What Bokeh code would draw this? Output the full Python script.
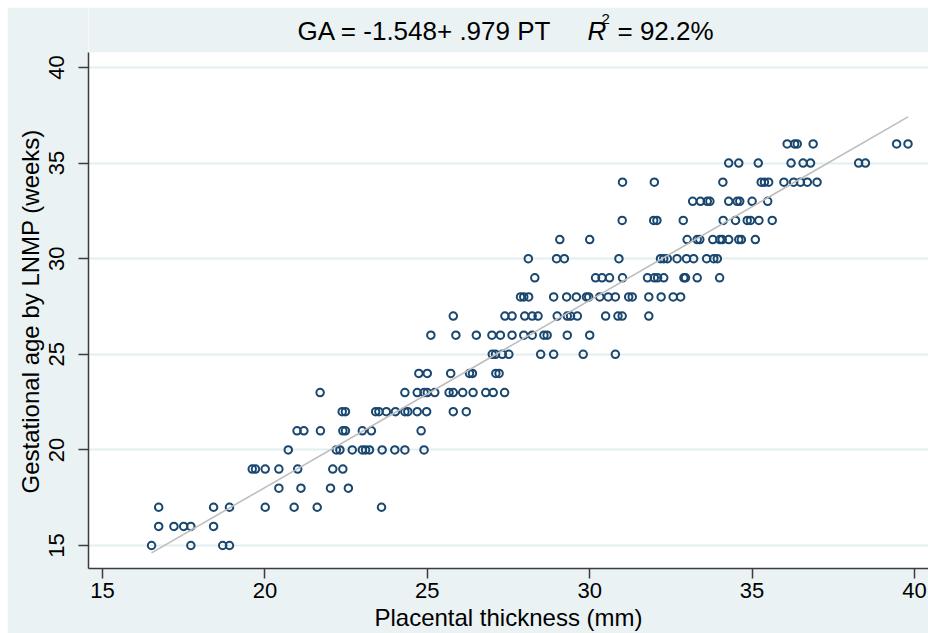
from bokeh.plotting import figure
from bokeh.models import Label, Range1d, FixedTicker, ColumnDataSource, BoxAnnotation
from bokeh.embed import file_html
from bokeh.resources import INLINE

# ---- data: placental thickness (mm) for each gestational age (weeks) ----
pt_ga15 = [16.51, 17.72, 18.70, 18.91]
pt_ga16 = [16.73, 17.20, 17.50, 17.72, 18.42]
pt_ga17 = [16.73, 18.42, 18.91, 20.01, 20.90, 21.61, 23.59]
pt_ga18 = [20.43, 21.11, 22.02, 22.57]
pt_ga19 = [19.61, 19.71, 20.01, 20.43, 21.01, 22.09, 22.40]
pt_ga20 = [20.72, 22.20, 22.31, 22.69, 23.00, 23.10, 23.22, 23.61, 24.00, 24.31, 24.90]
pt_ga21 = [20.99, 21.20, 21.71, 22.40, 22.48, 23.00, 23.28, 24.81]
pt_ga22 = [22.38, 22.48, 23.41, 23.51, 23.74, 24.02, 24.31, 24.40, 24.69, 24.98, 25.80, 26.20]
pt_ga23 = [21.70, 24.31, 24.69, 24.90, 25.00, 25.23, 25.67, 25.80, 26.09, 26.41, 26.80, 27.03, 27.38]
pt_ga24 = [24.74, 25.00, 25.72, 26.30, 26.39, 27.11, 27.21]
pt_ga25 = [27.00, 27.10, 27.31, 27.51, 28.49, 28.89, 29.80, 30.79]
pt_ga26 = [25.11, 25.88, 26.51, 26.99, 27.25, 27.61, 27.97, 28.23, 28.59, 28.69, 29.31, 30.00]
pt_ga27 = [25.80, 27.39, 27.61, 28.00, 28.23, 28.41, 29.00, 29.31, 29.41, 29.62, 30.49, 30.87, 31.00, 31.82]
pt_ga28 = [27.87, 27.97, 28.12, 28.89, 29.29, 29.59, 29.90, 29.97, 30.31, 30.57, 30.79, 31.20, 31.31, 31.82, 32.20, 32.57, 32.80]
pt_ga29 = [28.31, 30.18, 30.38, 30.61, 31.01, 31.78, 31.99, 32.09, 32.28, 32.90, 32.95, 33.31, 34.00]
pt_ga30 = [28.11, 28.98, 29.22, 30.90, 32.18, 32.28, 32.39, 32.69, 32.98, 33.20, 33.60, 33.82, 33.93]
pt_ga31 = [29.08, 30.00, 33.00, 33.31, 33.39, 33.79, 34.01, 34.08, 34.28, 34.59, 34.67, 35.10]
pt_ga32 = [31.00, 31.97, 32.07, 32.88, 34.11, 34.49, 34.85, 34.95, 35.21, 35.62]
pt_ga33 = [33.17, 33.41, 33.62, 33.70, 34.28, 34.54, 34.62, 35.00, 35.48]
pt_ga34 = [31.01, 31.99, 34.10, 35.28, 35.38, 35.51, 35.98, 36.28, 36.49, 36.70, 37.00]
pt_ga35 = [34.28, 34.59, 35.19, 36.20, 36.57, 36.80, 38.28, 38.49]
pt_ga36 = [36.08, 36.31, 36.39, 36.88, 39.45, 39.80]

ga_levels = list(range(15, 37))
pt_rows = [pt_ga15, pt_ga16, pt_ga17, pt_ga18, pt_ga19, pt_ga20, pt_ga21, pt_ga22,
           pt_ga23, pt_ga24, pt_ga25, pt_ga26, pt_ga27, pt_ga28, pt_ga29, pt_ga30,
           pt_ga31, pt_ga32, pt_ga33, pt_ga34, pt_ga35, pt_ga36]

fit_intercept = -1.548
fit_slope = 0.979

x_ticks = [15, 20, 25, 30, 35, 40]
y_ticks = [15, 20, 25, 30, 35, 40]

title_left = "GA = -1.548+ .979 PT"
title_r = "R"
title_sup = "2"
title_right = "= 92.2%"
x_title = "Placental thickness (mm)"
y_title = "Gestational age by LNMP (weeks)"

# ---- build ----
pt_all, ga_all = [], []
for g, row in zip(ga_levels, pt_rows):
    for v in row:
        pt_all.append(v)
        ga_all.append(g)
src = ColumnDataSource(dict(pt=pt_all, ga=ga_all))

x_lo, x_hi = min(pt_all), max(pt_all)
fit_x = [x_lo, x_hi]
fit_y = [fit_intercept + fit_slope * x_lo, fit_intercept + fit_slope * x_hi]

FONT = "Liberation Sans"
BG = "#EAF2F3"
NAVY = "#1A476F"
AXIS = "#3C3C3C"

Y_BOTTOM = 13.797   # value at the x axis
Y_PLOT_TOP = 40.80  # top of the white plot region
Y_CANVAS_TOP = 43.138

p = figure(width=921, height=626, output_backend="svg", toolbar_location=None,
           x_range=Range1d(14.569, 40.431), y_range=Range1d(Y_BOTTOM, Y_CANVAS_TOP),
           min_border_left=81, min_border_right=0, min_border_top=0,
           min_border_bottom=65, title=None)
p.margin = (7, 0, 0, 7)
p.background_fill_color = "white"
p.border_fill_color = BG
p.outline_line_color = None

# title band inside the frame
p.add_layout(BoxAnnotation(bottom=Y_PLOT_TOP, fill_color=BG, fill_alpha=1.0,
                           line_color=None, level="underlay"))

p.xgrid.grid_line_color = None
p.ygrid.grid_line_color = "#E4EDEF"
p.ygrid.grid_line_width = 2
p.ygrid.ticker = FixedTicker(ticks=y_ticks)

for ax in (p.xaxis[0], p.yaxis[0]):
    ax.axis_line_color = AXIS
    ax.axis_line_width = 1.5
    ax.major_tick_line_color = AXIS
    ax.major_tick_line_width = 1.5
    ax.major_tick_out = 10
    ax.major_tick_in = 0
    ax.minor_tick_line_color = None
    ax.major_label_text_font = FONT
    ax.major_label_text_font_size = "22px"
    ax.major_label_text_color = "black"
    ax.axis_label_text_font = FONT
    ax.axis_label_text_font_size = "24px"
    ax.axis_label_text_font_style = "normal"
    ax.axis_label_text_color = "black"

p.yaxis.bounds = (Y_BOTTOM, Y_PLOT_TOP)
p.xaxis.ticker = FixedTicker(ticks=x_ticks)
p.yaxis.ticker = FixedTicker(ticks=y_ticks)
p.xaxis.major_label_standoff = 4
p.yaxis.major_label_standoff = 14
p.yaxis.major_label_orientation = "vertical"

# the axis title is centred on the whole frame (which includes the title band),
# so pad its end with no-break spaces to centre it on the white plot region
p.yaxis.axis_label = y_title + "\u00a0" * 7
p.yaxis.axis_label_standoff = 3
p.xaxis.axis_label = x_title
p.xaxis.axis_label_standoff = 3

p.scatter(x="pt", y="ga", source=src, marker="circle", size=7.5,
          fill_color=None, line_color=NAVY, line_width=2.0)
p.line(x=fit_x, y=fit_y, line_color="#BDBDBD", line_width=1.6)

# title pieces (screen units, relative to the frame's bottom-left)
def add_title_piece(txt, x, y, size, style="normal"):
    p.add_layout(Label(x=x, y=y, x_units="screen", y_units="screen", text=txt,
                       text_font=FONT, text_font_size=size, text_font_style=style,
                       text_align="left", text_baseline="alphabetic",
                       text_color="black"))

add_title_piece(title_left, 209, 538, "26px")
add_title_piece(title_r, 499, 538, "26px", "italic")
add_title_piece(title_sup, 513, 550, "15px")
add_title_piece(title_right, 529, 538, "26px")

open("out.html", "w").write(file_html(p, INLINE))
